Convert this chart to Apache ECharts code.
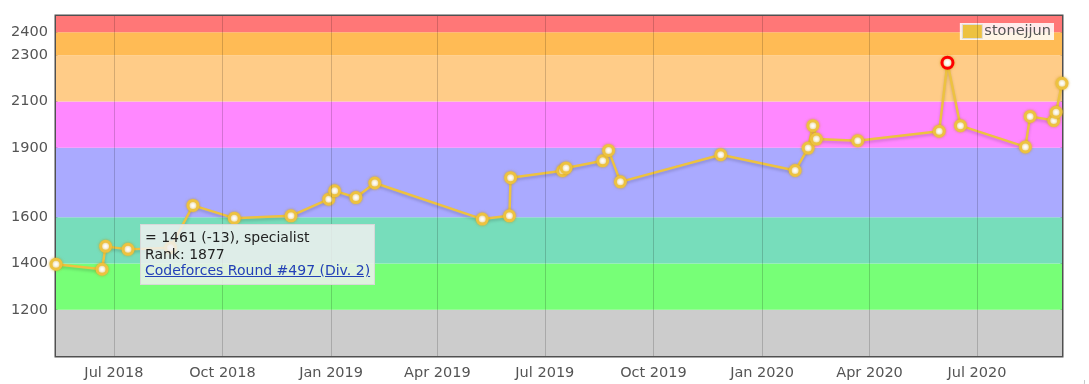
<!DOCTYPE html>
<html>
<head>
<meta charset="utf-8">
<script src="https://cdn.jsdelivr.net/npm/echarts@6/dist/echarts.min.js"></script>
<style>
  html, body { margin: 0; padding: 0; background: #fff; }
  #chart { position: absolute; left: 0; top: 0; width: 1089px; height: 384px; }
  #rule { position: absolute; left: 0; top: 380px; width: 1084px; height: 8px;
          border-bottom: 1px solid #c8c8c8; border-right: 1px solid #c8c8c8; border-bottom-right-radius: 6px; }
</style>
</head>
<body>
<div id="rule"></div>
<div id="chart"></div>
<script>
// ---- data ----
const HANDLE = 'stonejjun';
const DATES = ['2018-05-13','2018-06-21','2018-06-24','2018-07-13','2018-08-18','2018-09-06','2018-10-11','2018-11-28','2018-12-30','2019-01-04','2019-01-22','2019-02-07','2019-05-09','2019-06-01','2019-06-02','2019-07-16','2019-07-19','2019-08-19','2019-08-24','2019-09-03','2019-11-27','2020-01-29','2020-02-09','2020-02-13','2020-02-16','2020-03-22','2020-05-30','2020-06-06','2020-06-17','2020-08-11','2020-08-15','2020-09-04','2020-09-06','2020-09-11'];
const RATINGS = [1397,1375,1474,1461,1468,1651,1596,1606,1678,1714,1685,1748,1592,1606,1771,1801,1813,1844,1889,1753,1870,1802,1899,1996,1938,1931,1972,2268,1996,1904,2036,2018,2054,2179];
const X_TICKS = ['2018-07-01','2018-10-01','2019-01-01','2019-04-01','2019-07-01','2019-10-01','2020-01-01','2020-04-01','2020-07-01'];
const MONTHS = ['Jan','Feb','Mar','Apr','May','Jun','Jul','Aug','Sep','Oct','Nov','Dec'];
const Y_TICKS = [1200,1400,1600,1900,2100,2300,2400];
const Y_MIN = 1000, Y_MAX = 2470;
const BAND_LIMITS = [0,1200,1400,1600,1900,2100,2300,2400,5000];
const BAND_COLORS = ['#CCCCCC','#77FF77','#77DDBB','#AAAAFF','#FF88FF','#FFCC88','#FFBB55','#FF7777'];
const RANK_NAMES = ['newbie','pupil','specialist','expert','candidate master','master','international master','grandmaster'];
const TIP_INDEX = 3;
const TIP_RANK = 1877;
const TIP_CONTEST = 'Codeforces Round #497 (Div. 2)';

// ---- build ----
const ts = s => { const [y,m,d] = s.split('-').map(Number); return Date.UTC(y, m-1, d); };
const xs = DATES.map(ts);
const xTicks = X_TICKS.map(ts);
const maxIdx = RATINGS.indexOf(Math.max(...RATINGS));
const lineData = RATINGS.map((r, i) => {
  const item = { value: [xs[i], r] };
  if (i === maxIdx) { item.itemStyle = { color: '#fff', borderColor: '#FF0000', borderWidth: 3 }; item.symbolSize = 11; }
  return item;
});
const bands = BAND_COLORS.map((c, i) => [
  { yAxis: Math.max(BAND_LIMITS[i], Y_MIN), itemStyle: { color: c } },
  { yAxis: Math.min(BAND_LIMITS[i+1], Y_MAX) }
]).filter(b => b[0].yAxis < b[1].yAxis);
const rankName = r => RANK_NAMES[BAND_LIMITS.findIndex((l, i) => r >= l && r < BAND_LIMITS[i+1])];

const FONT = 'DejaVu Sans';
const chart = echarts.init(document.getElementById('chart'), null, { renderer: 'canvas' });
chart.setOption({
  animation: false,
  textStyle: { fontFamily: FONT },
  grid: { left: 56, right: 27, top: 16, bottom: 28, show: true, borderColor: '#505050', borderWidth: 3, backgroundColor: 'transparent' },
  legend: {
    right: 35, top: 23, padding: [1, 3, 1, 2],
    backgroundColor: 'rgba(255,255,255,0.85)',
    icon: 'rect', itemWidth: 20, itemHeight: 14,
    textStyle: { color: '#545454', fontSize: 14.5, fontFamily: FONT, padding: [0,0,0,-3] },
    data: [{ name: HANDLE, itemStyle: { color: '#EDC240', borderColor: '#dddddd', borderWidth: 1 } }],
    selectedMode: false
  },
  tooltip: {
    trigger: 'item', triggerOn: 'none', alwaysShowContent: true, transitionDuration: 0,
    backgroundColor: 'rgba(240,240,240,0.85)', borderColor: '#d8d8d8', borderWidth: 1, borderRadius: 0,
    padding: [4, 4, 5, 4], extraCssText: 'box-shadow:none;',
    position: p => [p[0] + 12, p[1] - 25],
    formatter: p => {
      const i = p.dataIndex;
      const r = RATINGS[i], d = i > 0 ? r - RATINGS[i-1] : 0;
      const ds = d >= 0 ? '+' + d : String(d);
      return '<div style="font-family:\'DejaVu Sans\';font-size:14px;line-height:16.5px;color:#222;">' +
        '= ' + r + ' (' + ds + '), ' + rankName(r) + '<br>' +
        'Rank: ' + TIP_RANK + '<br>' +
        '<a href="#" style="color:#2440b8;text-decoration:underline;">' + TIP_CONTEST + '</a></div>';
    }
  },
  xAxis: {
    type: 'value', min: xs[0], max: xs[xs.length-1],
    axisLine: { show: false }, axisTick: { show: false },
    axisLabel: {
      customValues: xTicks, color: '#545454', fontSize: 14.5, fontFamily: FONT, margin: 10,
      formatter: v => { const d = new Date(v); return MONTHS[d.getUTCMonth()] + ' ' + d.getUTCFullYear(); }
    },
    splitLine: { show: false }
  },
  yAxis: {
    type: 'value', min: Y_MIN, max: Y_MAX,
    axisLine: { show: false }, axisTick: { show: false },
    axisLabel: { customValues: Y_TICKS, color: '#545454', fontSize: 14.5, fontFamily: FONT, margin: 8, formatter: v => String(v) },
    splitLine: { show: false }
  },
  series: [
    {
      type: 'line', name: 'bands', z: -1, data: [], silent: true,
      markArea: { silent: true, data: bands }
    },
    {
      type: 'line', name: 'grid', z: 1, data: [], silent: true,
      markLine: {
        silent: true, symbol: ['none', 'none'], label: { show: false },
        lineStyle: { color: 'rgba(0,0,0,0.17)', width: 1, type: 'solid' },
        data: xTicks.map(t => ({ xAxis: t }))
      }
    },
    {
      type: 'line', name: HANDLE, data: lineData, z: 3,
      symbol: 'circle', symbolSize: 10, showAllSymbol: true,
      lineStyle: { color: '#EDC240', width: 2.5, shadowColor: 'rgba(0,0,0,0.18)', shadowBlur: 3, shadowOffsetY: 2 },
      itemStyle: { color: '#ffffff', borderColor: '#EDC240', borderWidth: 3, shadowColor: 'rgba(200,150,0,0.6)', shadowBlur: 3 },
      emphasis: { disabled: true }
    }
  ]
});
chart.dispatchAction({ type: 'showTip', seriesIndex: 2, dataIndex: TIP_INDEX });
</script>
</body>
</html>
